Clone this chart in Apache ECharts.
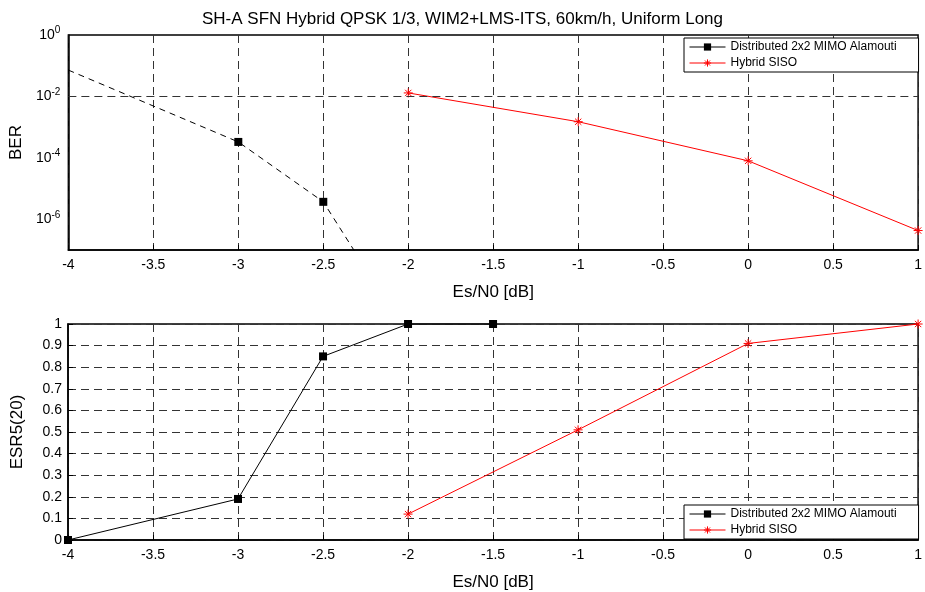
<!DOCTYPE html>
<html>
<head>
<meta charset="utf-8">
<script src="https://cdn.jsdelivr.net/npm/echarts@6/dist/echarts.min.js"></script>
<style>
  html, body { margin: 0; padding: 0; background: #fff; }
  #chart { width: 925px; height: 592px; }
</style>
</head>
<body>
<div id="chart"></div>
<script>
const mimoName = "Distributed 2x2 MIMO Alamouti";
const sisoName = "Hybrid SISO";

// Es/N0 range
const xMin = -4;
const xMax = 1;

// top plot: BER
const berMimoX = [-4, -3, -2.5, -2];
const berMimo = [0.072, 3.3e-4, 3.7e-6, 1.6e-10];
const berSisoX = [-2, -1, 0, 1];
const berSiso = [1.3e-2, 1.5e-3, 8e-5, 4.3e-7];
const berGridLines = [1e-2, 1e-4, 1e-6];

// bottom plot: ESR5(20)
const esrMimoX = [-4, -3, -2.5, -2, -1.5];
const esrMimo = [0, 0.19, 0.85, 1, 1];
const esrSisoX = [-2, -1, 0, 1];
const esrSiso = [0.12, 0.51, 0.91, 1];

const font = "Liberation Sans";
const gridColor = "#333";
const dash = [8, 5];
const star = "path://M0,5L10,5M5,0L5,10M1.5,1.5L8.5,8.5M8.5,1.5L1.5,8.5";

const chart = echarts.init(document.getElementById("chart"));

function pairs(xs, ys) {
  return xs.map((x, i) => [x, ys[i]]);
}

function xAxisFor(gridIndex) {
  return {
    gridIndex: gridIndex,
    type: "value",
    min: xMin,
    max: xMax,
    interval: 0.5,
    name: "Es/N0 [dB]",
    nameLocation: "middle",
    nameGap: 34,
    nameTextStyle: { fontFamily: font, fontSize: 17, color: "#000" },
    axisLine: { onZero: false, lineStyle: { color: "#000", width: 1.5 } },
    axisTick: { inside: true, length: 5, lineStyle: { color: "#000" } },
    axisLabel: { fontFamily: font, fontSize: 14, color: "#000", margin: 8 },
    splitLine: { show: true, lineStyle: { color: gridColor, type: dash, width: 1 } }
  };
}

function legendFor(top) {
  return {
    left: 684,
    top: top,
    orient: "vertical",
    itemWidth: 36,
    itemHeight: 9,
    itemGap: 4,
    padding: [3, 22, 3, 5],
    borderColor: "#000",
    borderWidth: 1,
    backgroundColor: "#fff",
    itemStyle: { borderWidth: 1 },
    lineStyle: { width: 1 },
    textStyle: { fontFamily: font, fontSize: 12, color: "#000" },
    data: [{ name: mimoName, lineStyle: { type: "solid", width: 1 } }, sisoName]
  };
}

function supLabel(value) {
  const exp = Math.round(Math.log10(value));
  if (exp % 2 !== 0) return "";
  return "{b|10}{s|" + exp + "}";
}

chart.setOption({
  animation: false,
  title: {
    text: "SH-A SFN Hybrid QPSK 1/3, WIM2+LMS-ITS, 60km/h, Uniform Long",
    left: "center",
    top: 6,
    textStyle: { fontFamily: font, fontSize: 17, fontWeight: "normal", color: "#000" }
  },
  grid: [
    { left: 68, top: 35, width: 855, height: 215, show: true, borderColor: "#000", borderWidth: 1.5, backgroundColor: "transparent" },
    { left: 68, top: 324, width: 855, height: 216, show: true, borderColor: "#000", borderWidth: 1.5, backgroundColor: "transparent" }
  ],
  legend: [legendFor(38), legendFor(505)],
  xAxis: [xAxisFor(0), xAxisFor(1)],
  yAxis: [
    {
      gridIndex: 0,
      type: "log",
      logBase: 10,
      min: 1e-7,
      max: 1,
      name: "BER",
      nameLocation: "middle",
      nameGap: 42,
      nameTextStyle: { fontFamily: font, fontSize: 17, color: "#000" },
      axisLine: { onZero: false, lineStyle: { color: "#000", width: 1.5 } },
      axisTick: { show: false },
      axisLabel: {
        formatter: supLabel,
        color: "#000",
        margin: 8,
        rich: {
          b: { fontFamily: font, fontSize: 14, color: "#000" },
          s: { fontFamily: font, fontSize: 10, color: "#000", padding: [0, 0, 9, 0] }
        }
      },
      splitLine: { show: false }
    },
    {
      gridIndex: 1,
      type: "value",
      min: 0,
      max: 1,
      interval: 0.1,
      name: "ESR5(20)",
      nameLocation: "middle",
      nameGap: 42,
      nameTextStyle: { fontFamily: font, fontSize: 17, color: "#000" },
      axisLine: { onZero: false, lineStyle: { color: "#000", width: 1.5 } },
      axisTick: { inside: true, length: 5, lineStyle: { color: "#000" } },
      axisLabel: { fontFamily: font, fontSize: 14, color: "#000", margin: 6 },
      splitLine: { show: true, lineStyle: { color: gridColor, type: dash, width: 1 } }
    }
  ],
  series: [
    {
      name: mimoName,
      type: "line",
      xAxisIndex: 0,
      yAxisIndex: 0,
      data: pairs(berMimoX, berMimo),
      symbol: "rect",
      symbolSize: (val) => (val[0] === xMin ? 0 : 8),
      color: "#000",
      lineStyle: { color: "#000", width: 1, type: [6, 5] },
      itemStyle: { color: "#000" },
      emphasis: { disabled: true },
      clip: true
    },
    {
      name: sisoName,
      type: "line",
      xAxisIndex: 0,
      yAxisIndex: 0,
      data: pairs(berSisoX, berSiso),
      symbol: star,
      symbolSize: 9,
      color: "#f00",
      lineStyle: { color: "#f00", width: 1 },
      itemStyle: { color: "#f00", borderColor: "#f00", borderWidth: 1 },
      emphasis: { disabled: true },
      clip: true,
      markLine: {
        silent: true,
        symbol: "none",
        label: { show: false },
        lineStyle: { color: gridColor, type: dash, width: 1 },
        data: berGridLines.map(v => ({ yAxis: v }))
      },
      z: 3
    },
    {
      name: mimoName,
      type: "line",
      xAxisIndex: 1,
      yAxisIndex: 1,
      data: pairs(esrMimoX, esrMimo),
      symbol: "rect",
      symbolSize: 8,
      color: "#000",
      lineStyle: { color: "#000", width: 1 },
      itemStyle: { color: "#000" },
      emphasis: { disabled: true },
      clip: false
    },
    {
      name: sisoName,
      type: "line",
      xAxisIndex: 1,
      yAxisIndex: 1,
      data: pairs(esrSisoX, esrSiso),
      symbol: star,
      symbolSize: 9,
      color: "#f00",
      lineStyle: { color: "#f00", width: 1 },
      itemStyle: { color: "#f00", borderColor: "#f00", borderWidth: 1 },
      emphasis: { disabled: true },
      clip: false
    }
  ]
});
</script>
</body>
</html>
